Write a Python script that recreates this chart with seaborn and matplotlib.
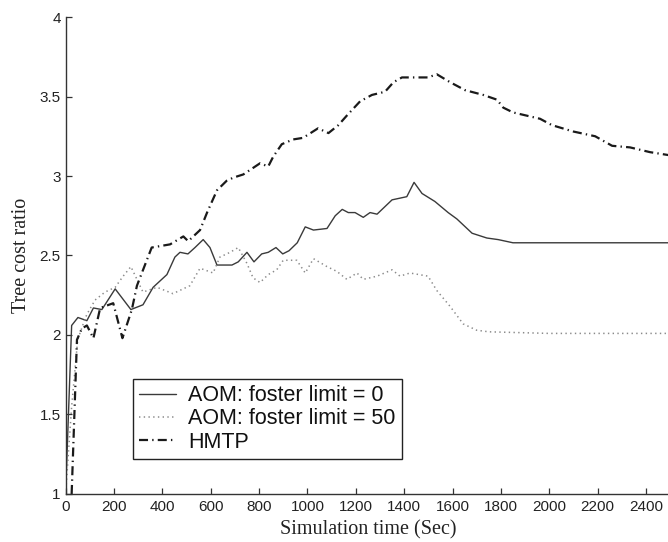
import matplotlib
matplotlib.use("Agg")
import matplotlib.pyplot as plt
import seaborn as sns
import numpy as np

# ---- data ----
t_aom0 = [0, 25, 51, 88, 115, 150, 205, 270, 320, 362, 419, 452, 473, 506, 535, 569,
          597, 626, 688, 714, 750, 779, 811, 838, 870, 898, 924, 958, 991, 1025, 1081,
          1115, 1144, 1169, 1197, 1231, 1259, 1288, 1350, 1411, 1441, 1474, 1527, 1582,
          1618, 1681, 1742, 1789, 1850, 2000, 2200, 2500]
v_aom0 = [1.00, 2.06, 2.11, 2.09, 2.17, 2.16, 2.29, 2.16, 2.19, 2.30, 2.38, 2.49, 2.52,
          2.51, 2.55, 2.60, 2.55, 2.44, 2.44, 2.46, 2.52, 2.46, 2.51, 2.52, 2.55, 2.51,
          2.53, 2.58, 2.68, 2.66, 2.67, 2.75, 2.79, 2.77, 2.77, 2.74, 2.77, 2.76, 2.85,
          2.87, 2.96, 2.89, 2.84, 2.77, 2.73, 2.64, 2.61, 2.60, 2.58, 2.58, 2.58, 2.58]

t_aom50 = [0, 25, 50, 73, 88, 122, 163, 205, 238, 270, 295, 320, 378, 444, 514, 556,
           610, 638, 680, 714, 750, 775, 804, 838, 873, 900, 956, 991, 1025, 1081, 1122,
           1163, 1205, 1231, 1288, 1350, 1383, 1424, 1499, 1535, 1590, 1644, 1700, 1750,
           2000, 2200, 2500]
v_aom50 = [1.00, 1.55, 1.97, 2.07, 2.13, 2.22, 2.27, 2.30, 2.37, 2.43, 2.35, 2.27, 2.30,
           2.26, 2.31, 2.42, 2.39, 2.49, 2.52, 2.55, 2.45, 2.36, 2.33, 2.38, 2.41, 2.47,
           2.47, 2.39, 2.48, 2.43, 2.40, 2.35, 2.39, 2.35, 2.37, 2.41, 2.37, 2.39, 2.37,
           2.28, 2.18, 2.07, 2.03, 2.02, 2.01, 2.01, 2.01]

t_hmtp = [25, 47, 67, 88, 115, 143, 197, 235, 274, 295, 356, 432, 487, 507, 556, 585,
          626, 666, 694, 735, 804, 838, 858, 894, 941, 982, 1044, 1087, 1128, 1163, 1218,
          1267, 1321, 1356, 1391, 1499, 1535, 1590, 1652, 1727, 1784, 1810, 1850, 1962,
          2011, 2099, 2190, 2260, 2334, 2417, 2500]
v_hmtp = [1.00, 1.97, 2.04, 2.06, 1.98, 2.17, 2.20, 1.98, 2.16, 2.31, 2.55, 2.57, 2.62,
          2.59, 2.66, 2.77, 2.91, 2.97, 2.99, 3.01, 3.08, 3.06, 3.12, 3.20, 3.23, 3.24,
          3.30, 3.27, 3.32, 3.38, 3.47, 3.51, 3.53, 3.59, 3.62, 3.62, 3.64, 3.59, 3.54,
          3.51, 3.48, 3.43, 3.40, 3.36, 3.32, 3.28, 3.25, 3.19, 3.18, 3.15, 3.13]

series_labels = ["AOM: foster limit = 0", "AOM: foster limit = 50", "HMTP"]
x_ticks = list(range(0, 2401, 200))
y_ticks = [1, 1.5, 2, 2.5, 3, 3.5, 4]
y_tick_labels = ["1", "1.5", "2", "2.5", "3", "3.5", "4"]
x_label = "Simulation time (Sec)"
y_label = "Tree cost ratio"

# ---- style ----
sns.set_theme(style="ticks")
plt.rcParams["font.family"] = ["Liberation Sans", "DejaVu Sans"]
plt.rcParams["lines.scale_dashes"] = False

fig = plt.figure(figsize=(6.68, 5.42), dpi=100)
ax = fig.add_axes([0.0982, 0.0886, 0.905, 0.880])

sns.lineplot(x=t_aom0, y=v_aom0, ax=ax, color="#3a3a3a", linewidth=1.0,
             linestyle="-", label=series_labels[0], estimator=None)
sns.lineplot(x=t_aom50, y=v_aom50, ax=ax, color="#8a8a8a", linewidth=1.1,
             linestyle=(0, (1.0, 2.4)), label=series_labels[1], estimator=None)
sns.lineplot(x=t_hmtp, y=v_hmtp, ax=ax, color="#1a1a1a", linewidth=1.6,
             linestyle=(0, (6.5, 3.0, 1.0, 3.0)), label=series_labels[2], estimator=None)

ax.set_xlim(0, 2500)
ax.set_ylim(1, 4)
ax.set_xticks(x_ticks)
ax.set_xticklabels([str(v) for v in x_ticks])
ax.set_yticks(y_ticks)
ax.set_yticklabels(y_tick_labels)

sns.despine(ax=ax, top=True, right=True)
for sp in ("left", "bottom"):
    ax.spines[sp].set_color("#333333")
    ax.spines[sp].set_linewidth(1.0)

ax.tick_params(axis="both", direction="in", length=4, width=0.9, colors="#333333",
               labelsize=11, labelcolor="#222222")
ax.tick_params(axis="y", pad=3.5)
ax.tick_params(axis="x", pad=4.5)

ax.set_xlabel(x_label, family=["Liberation Serif", "DejaVu Serif"], fontsize=14.5,
              color="#222222", labelpad=4)
ax.set_ylabel(y_label, family=["Liberation Serif", "DejaVu Serif"], fontsize=14.5,
              color="#222222", labelpad=6)

leg = ax.legend(loc="lower left", bbox_to_anchor=(0.1115, 0.0734), borderaxespad=0,
                fontsize=15.5, frameon=True, fancybox=False, framealpha=1,
                edgecolor="#222222", handlelength=1.7, handletextpad=0.55,
                borderpad=0.3, labelspacing=0.1)
leg.get_frame().set_linewidth(1.0)
for txt in leg.get_texts():
    txt.set_color("#111111")

fig.savefig("out.png", dpi=100)
